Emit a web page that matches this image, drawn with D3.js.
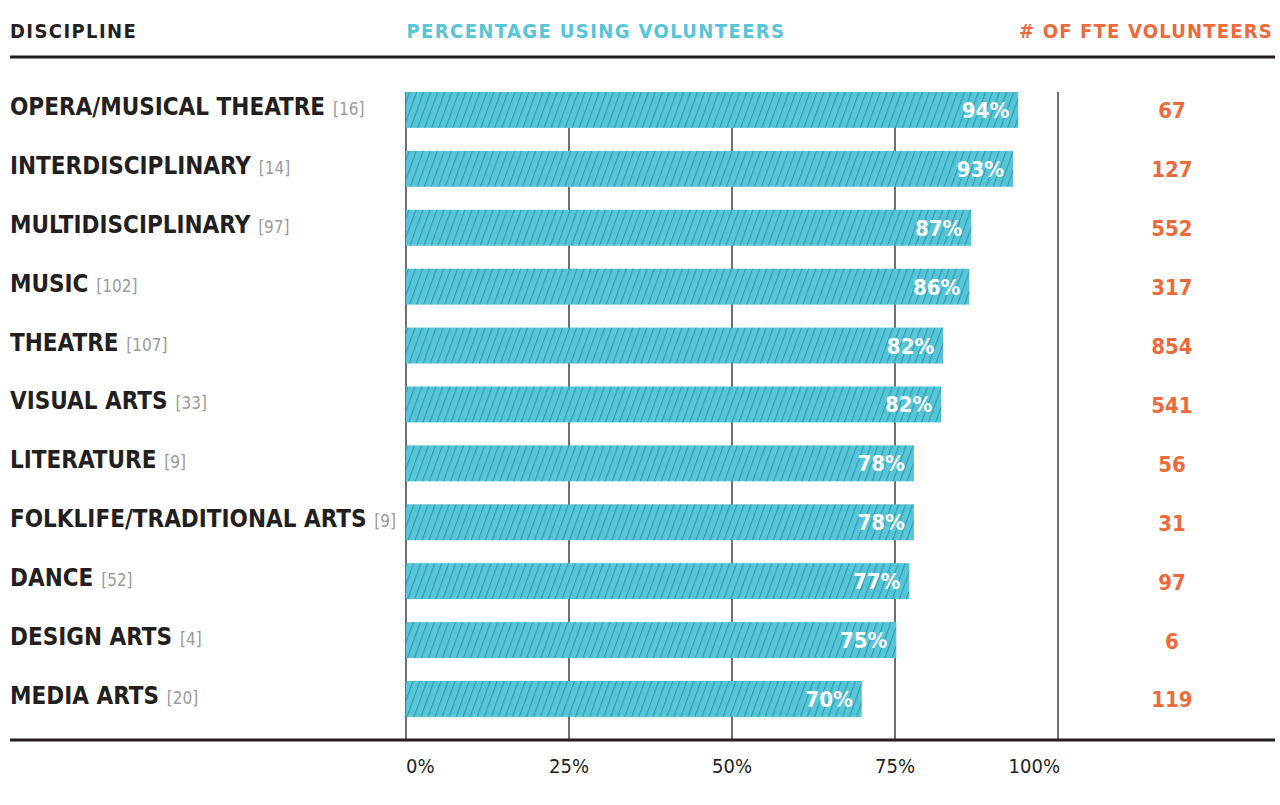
<!DOCTYPE html>
<html>
<head>
<meta charset="utf-8">
<script src="https://cdn.jsdelivr.net/npm/d3@7"></script>
<style>
  html, body { margin: 0; padding: 0; background: #fff; }
  svg { display: block; }
</style>
</head>
<body>
<svg id="chart" width="1280" height="805"></svg>
<script>
const categories = ["OPERA/MUSICAL THEATRE","INTERDISCIPLINARY","MULTIDISCIPLINARY","MUSIC","THEATRE","VISUAL ARTS","LITERATURE","FOLKLIFE/TRADITIONAL ARTS","DANCE","DESIGN ARTS","MEDIA ARTS"];
const counts = [16, 14, 97, 102, 107, 33, 9, 9, 52, 4, 20];
const pctValues = [93.9, 93.1, 86.7, 86.4, 82.4, 82.1, 77.9, 77.9, 77.2, 75.2, 69.9];
const pctLabels = ["94%","93%","87%","86%","82%","82%","78%","78%","77%","75%","70%"];
const fteValues = [67, 127, 552, 317, 854, 541, 56, 31, 97, 6, 119];
const tickValues = [0, 25, 50, 75, 100];
const tickLabels = ["0%","25%","50%","75%","100%"];
const headers = ["DISCIPLINE", "PERCENTAGE USING VOLUNTEERS", "# OF FTE VOLUNTEERS"];

const rows = categories.map((c, i) => ({cat: c, n: counts[i], pct: pctValues[i], lab: pctLabels[i], fte: fteValues[i]}));

const FONT = "'DejaVu Sans Condensed', 'Liberation Sans Narrow', 'Roboto', sans-serif";
const DARK = "#231f20", TEAL = "#55c5d7", HATCH = "#2f9aae", ORANGE = "#ee6a3a", GREY = "#9a9a9a";

const svg = d3.select("#chart");
const x = d3.scaleLinear().domain([0, 100]).range([406, 1058]);
const y = d3.scaleBand().domain(categories).range([80.5, 728.4]).paddingInner(0.39).paddingOuter(0.195);

// hatch pattern
const defs = svg.append("defs");
const pat = defs.append("pattern").attr("id", "hatch").attr("patternUnits", "userSpaceOnUse")
  .attr("width", 6.6).attr("height", 12).attr("patternTransform", "rotate(20)");
pat.append("rect").attr("width", 6.6).attr("height", 12).attr("fill", TEAL);
pat.append("line").attr("x1", 0.6).attr("x2", 0.6).attr("y1", 0).attr("y2", 12)
  .attr("stroke", HATCH).attr("stroke-width", 1.1);

// headers
svg.append("text").attr("x", 10).attr("y", 38).text(headers[0])
  .attr("font-family", FONT).attr("font-weight", 700).attr("font-size", 20).attr("fill", DARK).attr("letter-spacing", 1.4);
svg.append("text").attr("x", 596).attr("y", 38).attr("text-anchor", "middle").text(headers[1])
  .attr("font-family", FONT).attr("font-weight", 700).attr("font-size", 20).attr("fill", TEAL).attr("letter-spacing", 1.4);
svg.append("text").attr("x", 1273).attr("y", 38).attr("text-anchor", "end").text(headers[2])
  .attr("font-family", FONT).attr("font-weight", 700).attr("font-size", 20).attr("fill", ORANGE).attr("letter-spacing", 1.2);

svg.append("line").attr("x1", 10).attr("x2", 1275).attr("y1", 57).attr("y2", 57).attr("stroke", DARK).attr("stroke-width", 3);

// gridlines
const gridTop = y(categories[0]);
svg.append("g").selectAll("line").data(tickValues).join("line")
  .attr("x1", d => x(d)).attr("x2", d => x(d))
  .attr("y1", gridTop).attr("y2", 740)
  .attr("stroke", DARK).attr("stroke-width", 1.3);

// bars
svg.append("g").selectAll("rect").data(rows).join("rect")
  .attr("x", x(0)).attr("y", d => y(d.cat))
  .attr("width", d => x(d.pct) - x(0)).attr("height", y.bandwidth())
  .attr("fill", "url(#hatch)");

// percent labels
svg.append("g").selectAll("text").data(rows).join("text")
  .attr("x", d => x(d.pct) - 9).attr("y", d => y(d.cat) + y.bandwidth() / 2 + 8)
  .attr("text-anchor", "end").text(d => d.lab)
  .attr("font-family", FONT).attr("font-weight", 700).attr("font-size", 22).attr("fill", "#fff");

// category labels
const lab = svg.append("g").selectAll("text").data(rows).join("text")
  .attr("x", 10).attr("y", d => y(d.cat) + y.bandwidth() / 2 + 5)
  .attr("font-family", FONT);
lab.append("tspan").text(d => d.cat).attr("font-weight", 700).attr("font-size", 24).attr("fill", DARK);
lab.append("tspan").text(d => " [" + d.n + "]").attr("font-weight", 400).attr("font-size", 17).attr("fill", GREY).attr("dx", 3);

// FTE values
svg.append("g").selectAll("text").data(rows).join("text")
  .attr("x", 1172).attr("y", d => y(d.cat) + y.bandwidth() / 2 + 8.5)
  .attr("text-anchor", "middle").text(d => d.fte)
  .attr("font-family", FONT).attr("font-weight", 700).attr("font-size", 22).attr("fill", ORANGE);

// bottom axis line
svg.append("line").attr("x1", 10).attr("x2", 1275).attr("y1", 740).attr("y2", 740).attr("stroke", DARK).attr("stroke-width", 3);

// tick labels
svg.append("g").selectAll("text").data(tickValues).join("text")
  .attr("x", d => d === 100 ? x(d) + 2 : x(d))
  .attr("y", 773)
  .attr("text-anchor", (d, i) => i === 0 ? "start" : i === tickValues.length - 1 ? "end" : "middle")
  .text((d, i) => tickLabels[i])
  .attr("font-family", FONT).attr("font-size", 20).attr("fill", DARK);
</script>
</body>
</html>
